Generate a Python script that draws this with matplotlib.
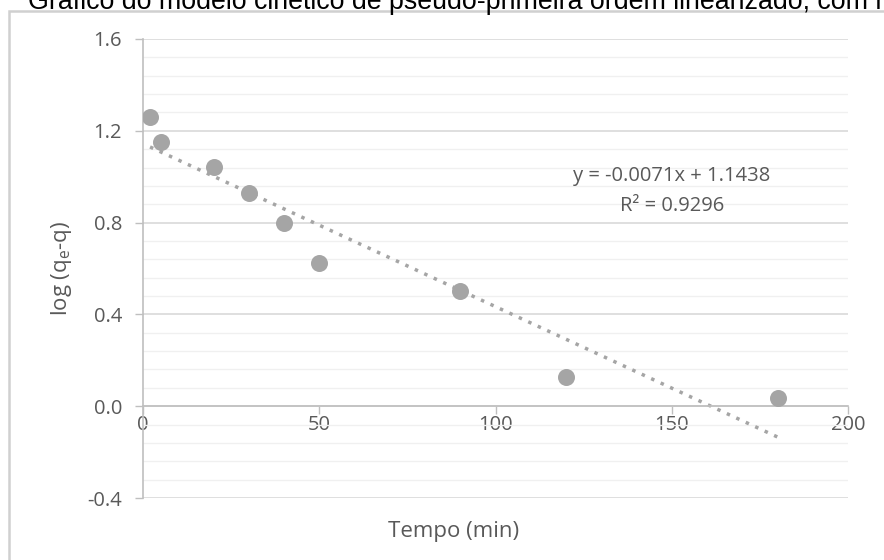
import matplotlib.pyplot as plt
import numpy as np
from matplotlib.patches import Rectangle
from matplotlib.ticker import MultipleLocator

tempo = [2, 5, 20, 30, 40, 50, 90, 120, 180]
log_qe_q = [1.262, 1.153, 1.043, 0.930, 0.798, 0.622, 0.500, 0.126, 0.035]
slope = -0.0071
intercept = 1.1438
eq_text = 'y = -0.0071x + 1.1438'
r2_text = 'R² = 0.9296'
title = 'Gráfico do modelo cinético de pseudo-primeira ordem linearizado, com r'

font = 'Open Sans'
txt_color = '#595959'
dot_color = '#a5a5a5'

fig = plt.figure(figsize=(8.84, 5.6), dpi=100)

# outer frame of the chart area (cut off at right/bottom)
fig.patches.append(Rectangle((9 / 884, -0.1), 1.2, 1 - 11 / 560 + 0.1,
                             transform=fig.transFigure, fill=False,
                             edgecolor='#d0d0d0', linewidth=1.8))
# title is cut off at the top in the original picture
fig.text(28 / 884, 1 - 9 / 560, title, fontsize=19.3, family='Liberation Sans',
         color='#000000', va='baseline', ha='left')

ax = fig.add_axes([143 / 884, 1 - 498 / 560, 705 / 884, 459 / 560])
ax.set_xlim(0, 200)
ax.set_ylim(-0.4, 1.6)

ax.yaxis.set_major_locator(MultipleLocator(0.4))
ax.yaxis.set_minor_locator(MultipleLocator(0.08))
ax.xaxis.set_major_locator(MultipleLocator(50))
ax.grid(which='major', axis='y', color='#d9d9d9', linewidth=1.2)
ax.grid(which='minor', axis='y', color='#f0f0f0', linewidth=1.0)
ax.grid(False, axis='x')
ax.set_axisbelow(True)

for s in ['top', 'right']:
    ax.spines[s].set_visible(False)
ax.spines['bottom'].set_position(('data', 0))
ax.spines['bottom'].set_color('#bfbfbf')
ax.spines['left'].set_color('#bfbfbf')
ax.spines['bottom'].set_linewidth(1.2)
ax.spines['left'].set_linewidth(1.2)

ax.tick_params(axis='both', which='major', length=6, color='#bfbfbf',
               labelsize=14.5, labelcolor=txt_color, width=1)
ax.tick_params(axis='y', which='minor', length=0)
ax.tick_params(axis='y', pad=9)
ax.tick_params(axis='x', pad=0)
ax.set_yticks(np.arange(-0.4, 1.61, 0.4))
ax.set_yticklabels(['%.1f' % v for v in np.arange(-0.4, 1.61, 0.4)])
for lab in ax.get_xticklabels() + ax.get_yticklabels():
    lab.set_family(font)

# trendline
xs = np.array([min(tempo), max(tempo)])
ax.plot(xs, slope * xs + intercept, linestyle=(0, (1, 2)), color=dot_color,
        linewidth=2.5)
ax.scatter(tempo, log_qe_q, s=150, color=dot_color, zorder=3, linewidths=0)

ax.text(150.1, 1.004, eq_text, fontsize=14.5, family=font, color=txt_color,
        ha='center', va='center')
ax.text(150.1, 0.874, r2_text, fontsize=14.5, family=font, color=txt_color,
        ha='center', va='center')

fig.text(454 / 884, 1 - 532 / 560, 'Tempo (min)', fontsize=16, family=font,
         color=txt_color, ha='center', va='center')
fig.text(61 / 884, 1 - 268 / 560, 'log (q$_\\mathregular{e}$-q)', fontsize=16,
         family=font, color=txt_color, ha='center', va='center', rotation=90)

fig.savefig('out.png', dpi=100)
